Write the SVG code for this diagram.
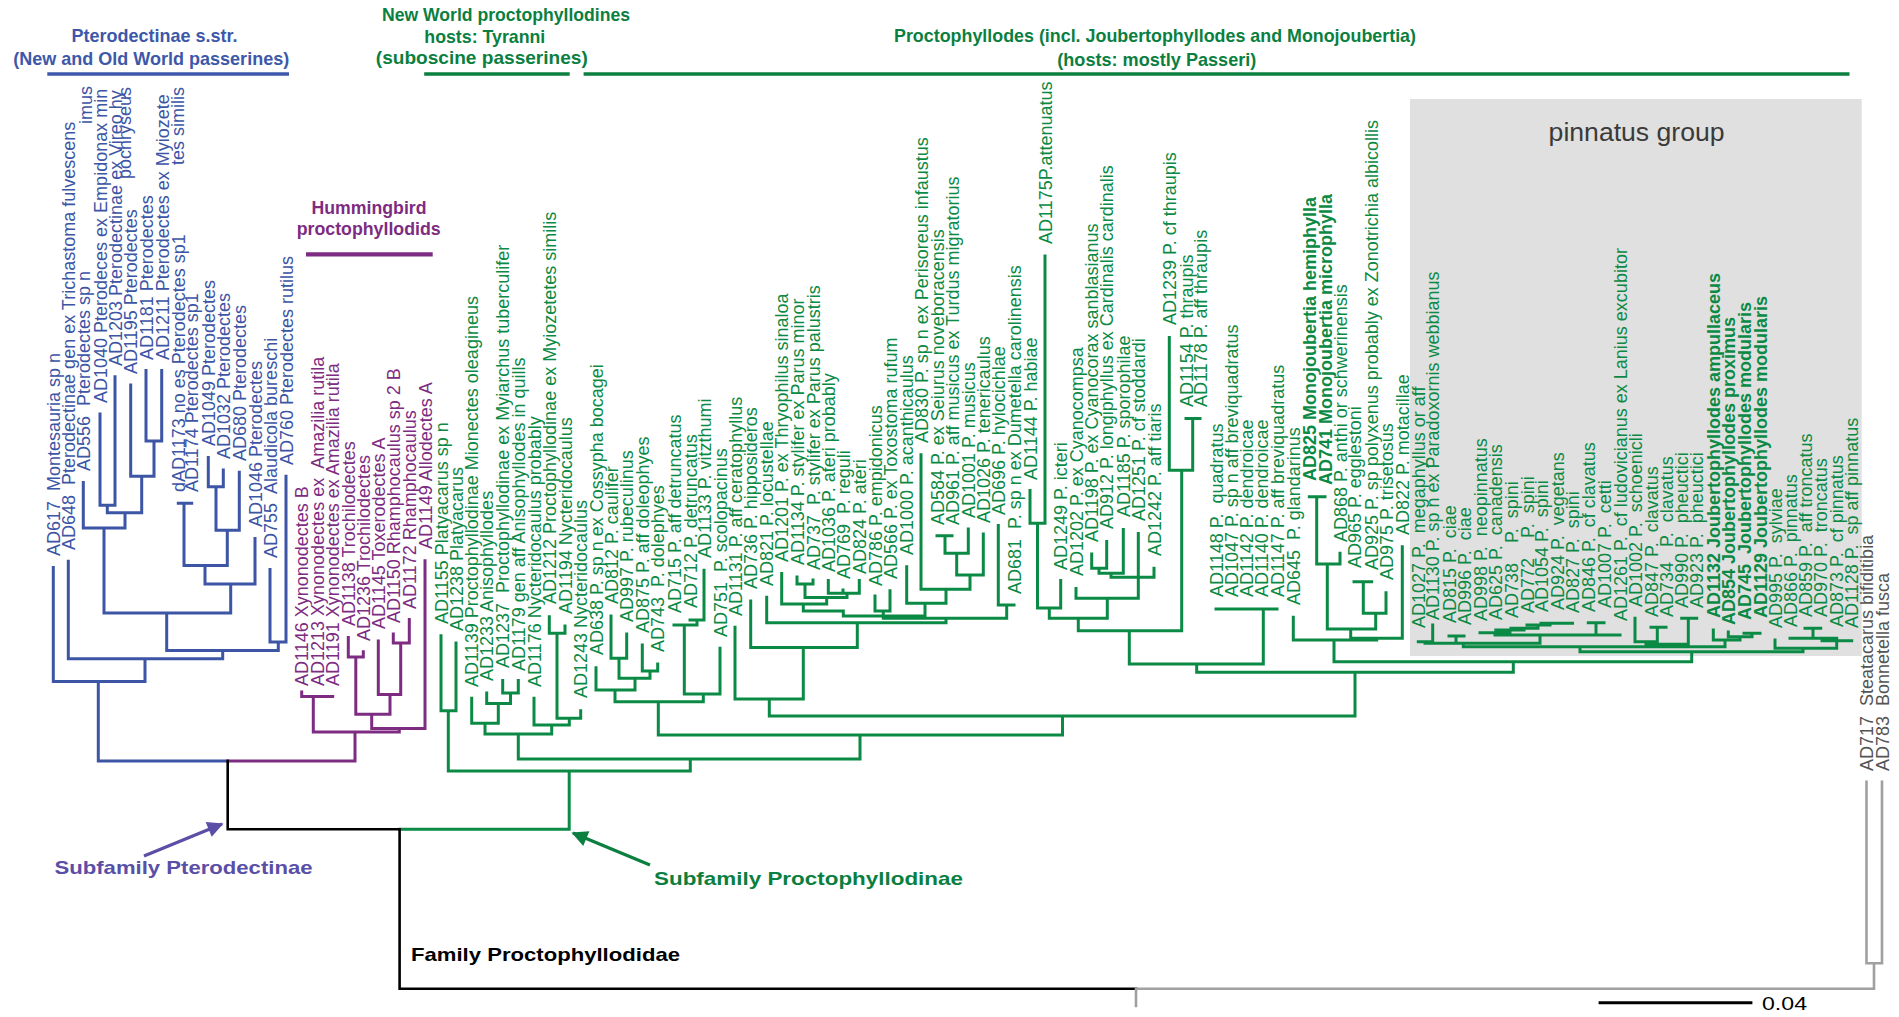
<svg xmlns="http://www.w3.org/2000/svg" width="1899" height="1017" viewBox="0 0 1899 1017" xml:space="preserve">
<style>
.t{font-family:"Liberation Sans",Arial,sans-serif;font-size:18px;white-space:pre}
.b{fill:#3c55a5}.p{fill:#7d2c82}.g{fill:#0b8a45}.k{fill:#555}.bd{font-weight:bold}
.h{font-family:"Liberation Sans",Arial,sans-serif;font-weight:bold;font-size:17.7px;text-anchor:middle}
.ln{fill:none;stroke-linecap:square;stroke-width:3}
.lb{stroke:#3c55a5}.lp{stroke:#7d2c82}.lg{stroke:#0b8a45}.lk{stroke:#000;stroke-width:2.6}.lgr{stroke:#a0a0a0;stroke-width:2.6}
.big{font-family:"Liberation Sans",Arial,sans-serif;font-weight:bold;font-size:18.5px}
</style>
<defs>
<marker id="ahb" viewBox="0 0 10 10" refX="9" refY="5" markerWidth="24" markerHeight="16" markerUnits="userSpaceOnUse" orient="auto"><path d="M0,0L10,5L0,10z" fill="#5a4ea6"/></marker>
<marker id="ahg" viewBox="0 0 10 10" refX="9" refY="5" markerWidth="24" markerHeight="16" markerUnits="userSpaceOnUse" orient="auto"><path d="M0,0L10,5L0,10z" fill="#0b7f3f"/></marker>
</defs>
<rect id="pinnatus-box" x="1410" y="99" width="451.7" height="557" fill="#e0e0e0"/>
<text x="1548.6" y="141" font-family="Liberation Sans, Arial, sans-serif" font-size="25" fill="#3a3a3a" textLength="176" lengthAdjust="spacingAndGlyphs">pinnatus group</text>

<g id="headers">
<text class="h" fill="#3d58a8" x="154.5" y="42" textLength="166" lengthAdjust="spacingAndGlyphs">Pterodectinae s.str.</text>
<text class="h" fill="#3d58a8" x="151.2" y="64.5" textLength="276" lengthAdjust="spacingAndGlyphs">(New and Old World passerines)</text>
<text class="h" fill="#0b7f3f" x="506" y="20.7" textLength="248" lengthAdjust="spacingAndGlyphs">New World proctophyllodines</text>
<text class="h" fill="#0b7f3f" x="484.8" y="42.5" textLength="121" lengthAdjust="spacingAndGlyphs">hosts: Tyranni</text>
<text class="h" fill="#0b7f3f" x="481.8" y="63.5" textLength="212" lengthAdjust="spacingAndGlyphs">(suboscine passerines)</text>
<text class="h" fill="#0b7f3f" x="1155" y="42.3" textLength="522" lengthAdjust="spacingAndGlyphs">Proctophyllodes (incl. Joubertophyllodes and Monojoubertia)</text>
<text class="h" fill="#0b7f3f" x="1156.8" y="65.5" textLength="199" lengthAdjust="spacingAndGlyphs">(hosts: mostly Passeri)</text>
<text class="h" fill="#7d2c82" x="369" y="214" textLength="115" lengthAdjust="spacingAndGlyphs">Hummingbird</text>
<text class="h" fill="#7d2c82" x="368.7" y="235" textLength="144" lengthAdjust="spacingAndGlyphs">proctophyllodids</text>
<path d="M47.3 74H289" stroke="#3d58a8" stroke-width="3.3"/>
<path d="M424.2 74H569.7M583.6 74H1849.5" stroke="#0b7f3f" stroke-width="3.3"/>
<path d="M306 254.3H432.7" stroke="#7d2c82" stroke-width="4.3"/>
</g>

<g id="connectors">
<path class="ln lb" d="M53.3 567.5V681.5M68.3 561.3V658.7M83.3 482.5V528.1M100 414.1V505.3M115 376.8V505.3M100 505.3H115M107.3 505.3V512.8M130.7 385.1V476.3M146 370.6V441.1M161.7 370.6V441.1M146 441.1H161.7M154 441.1V476.3M130.7 476.3H154M141.7 476.3V512.8M107.3 512.8H141.7M125 512.8V528.1M83.3 528.1H125M104 528.1V613.1M178.3 503.3H191.7M184 503.3V565.4M208.3 457.6V486.7M223.3 470.1V486.7M208.3 486.7H223.3M216 486.7V530.2M239.3 472.2V530.2M216 530.2H239.3M227.3 530.2V565.4M184 565.4H227.3M205 565.4V584.1M255 538.5V584.1M205 584.1H255M230.7 584.1V613.1M104 613.1H230.7M166.7 613.1V650.4M270 569.6V642.1M286 476.3V642.1M270 642.1H286M278.3 642.1V650.4M166.7 650.4H278.3M222.7 650.4V658.7M68.3 658.7H222.7M145 658.7V681.5M53.3 681.5H145M98.3 681.5V761M98.3 761H227.7"/>
<path class="ln lp" d="M301.7 696.4H332.7M301.7 692V696.4M313.3 696.4V732.1M348.3 637.5V657.1M363.3 651.8V657.1M348.3 657.1H363.3M355.8 657.1V714.3M393.3 633.9V642.9M409.3 619.6V642.9M393.3 642.9H409.3M400.7 642.9V694.6M378.3 641V694.6M378.3 694.6H400.7M390 694.6V714.3M355.8 714.3H390M371.7 714.3V728.6M425 560.7V728.6M371.7 728.6H425M399.3 728.6V732.1M313.3 732.1H399.3M355 732.1V761M227.7 761H355"/>
<path class="ln lg" d="M441 635.7V710.7M456 642.9V710.7M441 710.7H456M448.3 710.7V771M502.7 680.4V692.9M518.3 680.4V692.9M502.7 692.9H518.3M510.5 692.9V703.6M486.7 692.9V703.6M486.7 703.6H510.5M498.3 703.6V723.2M471.7 698.2V723.2M471.7 723.2H498.3M485 723.2V733.9M549.3 616.7V633.3M565 626V633.3M549.3 633.3H565M557 633.3V718.3M580.7 710.7V718.3M557 718.3H580.7M569.3 718.3V725M534 698.2V725M534 725H569.3M551.7 725V733.9M485 733.9H551.7M518.3 733.9V759
M596 667.7V690M611 616V658.3M626.7 634V658.3M611 658.3H626.7M619 658.3V678.3M642.3 645V671M657.7 664V671M642.3 671H657.7M650 671V678.3M619 678.3H650M635 678.3V690M596 690H635M615 690V701.7M704 570.2V620M690 620H704M697 620V625M674 625H697M684.3 625V694M720 648.3V694M684.3 694H720M703.3 694V701.7M615 701.7H703.3M658.3 701.7V735
M735 627.3V699M750.7 601V647.5M766.7 597.3V622.7M781.7 573.5V604M797 577V584M813 580V584M797 584H813M805 584V597.5M828.3 580.5V593.3M843 590V593.3M859.3 580.5V593.3M828.3 593.3H859.3M847 593.3V597.5M805 597.5H847M826.7 597.5V604M781.7 604H826.7M803.3 604V611M803.3 611H843.3M843.3 611V616M875 596V611M890 590.8V611M875 611H890M883.3 611V618.3M906.7 566.7V603.3M921 454.8V589.3M937 535.7H952M945 535.7V553.3M968.3 528.9V553.3M945 553.3H968.3M956.7 553.3V575M983.3 534V575M956.7 575H983.3M970 575V589.3M921 589.3H970M946 589.3V603.3M906.7 603.3H946M925 603.3V616M843.3 616H925M998.3 525.4V605M998.3 605H1014M1006.7 605V618.3M883.3 618.3H1006.7M946 618.3V622.7M766.7 622.7H946M857.3 622.7V647.5M750.7 647.5H857.3M803.3 647.5V699M735 699H803.3M769.3 699V716M769.3 716H1355
M448.3 771H690.3M569.2 771V829.3M690.3 771V759M518.3 759H860M860 759V735M658.3 735H1062.5M1062.5 735V716M399.6 829.3H569.2
M1030 490.6V523.3M1045 255.9V523.3M1030 523.3H1045M1037.5 523.3V608M1060.7 580.4V608M1037.5 608H1060.7M1049.3 608V618.3M1091.7 553.9V568.3M1106.7 541.6V568.3M1091.7 568.3H1106.7M1099 568.3V573.3M1123.3 529.4V573.3M1099 573.3H1123.3M1111 573.3V577.3M1138.3 533.5V598.3M1154 568.2V577.3M1111 577.3H1154M1076 588.6V598.3M1076 598.3H1138.3M1107.3 598.3V618.3M1049.3 618.3H1107.3M1078.3 618.3V630.7M1169.3 337.6V470.2M1186 418.4H1200M1192.7 418.4V470.2M1169.3 470.2H1192.7M1181.7 470.2V630.7M1078.3 630.7H1181.7M1129.3 630.7V664M1216 609H1277M1263.3 609V664M1129.3 664H1263.3M1196.7 664V672.3M1196.7 672.3H1513.3M1355 672.3V716
M1309.3 496.7H1325M1316.7 496.7V564M1340 553.3V564M1316.7 564H1340M1327.3 564V629M1354 581.7H1371.7M1363.3 581.7V613.3M1386 592.7V613.3M1363.3 613.3H1386M1375.7 613.3V629M1327.3 629H1375.7M1350.7 629V638.3M1402.3 546.7V638.3M1350.7 638.3H1402.3M1376.7 638.3V640M1293.3 617.3V640M1293.3 640H1376.7M1334 640V661.7M1334 661.7H1691.7M1513.3 661.7V672.3
M1418.3 641.7H1432.7M1432.7 625V641.7M1425 641.7V643.3M1449 636H1464M1456 636V643.3M1541 623.3H1572.5M1550 623.3V625M1527 625H1550M1538 625V628.3M1511 628.3H1538M1524 628.3V630M1495.8 630H1524M1510 630V632.7M1480 632.7H1510M1495 632.7V635M1588.3 622.7H1604M1596 622.7V635M1495 635H1620M1540 635V643.3M1425 643.3H1540M1463.3 643.3V646.7M1635 618.3V641.7M1651 627.3H1666M1657.3 627.3V641.7M1635 641.7H1657.3M1646 641.7V644.3M1681.7 618.3H1696.7M1688.3 618.3V644.3M1646 644.3H1688.3M1667 644.3V646.7M1713.3 630V640M1728.3 632V636.7M1744 633.3H1760M1752 633.3V636.7M1728.3 636.7H1752M1740 636.7V640M1713.3 640H1740M1725 640V646.7M1463.3 646.7H1725M1580 646.7V651.7M1805 628.3H1820.7M1813 628.3V638.3M1790 638.3H1836.7M1822 638.3V640.7M1822 640.7H1851.7M1836.7 640.7V648.3M1775 640V648.3M1775 648.3H1836.7M1803 648.3V651.7M1580 651.7H1803M1691.7 651.7V661.7"/>
<path class="ln lk" d="M227.7 761V829.3M227.7 829.3H399.6M399.6 829.3V988.7M399.6 988.7H1136"/>
<path class="ln lgr" d="M1136 988.7H1874M1136 988.7V1006M1874 988.7V963.3M1866.5 963.3H1882M1866.5 781.7V963.3M1882 781.7V963.3"/>
<path d="M144 856L222 824" stroke="#5a4ea6" stroke-width="3.2" marker-end="url(#ahb)"/>
<path d="M650 865L573 833" stroke="#0b7f3f" stroke-width="3.2" marker-end="url(#ahg)"/>
<path d="M1598.6 1002.7H1752.4" stroke="#000" stroke-width="3"/>
</g>

<g id="tips-pterodectinae">
<g id="n-AD617"><text class="t b" transform="translate(59.8,556) rotate(-90)">AD617  Montesauria sp n</text></g>
<g id="n-AD648"><text class="t b" transform="translate(74.8,550) rotate(-90)">AD648  Pterodectinae gen ex Trichastoma fulvescens</text></g>
<g id="n-AD556"><text class="t b" transform="translate(89.8,471) rotate(-90)">AD556  Pterodectes sp n</text></g>
<g id="n-AD1040"><text class="t b" transform="translate(106.5,403) rotate(-90)">AD1040 Pterodeces ex Empidonax min</text><text class="t b" transform="translate(91.5,124) rotate(-90)">imus</text></g>
<g id="n-AD1203"><text class="t b" transform="translate(121.5,366) rotate(-90)">AD1203 Pterodectinae ex Vireo hy</text><text class="t b" transform="translate(130.5,179) rotate(-90)">pochryseus</text></g>
<g id="n-AD1195"><text class="t b" transform="translate(137.2,374) rotate(-90)">AD1195 Pterodectes</text></g>
<g id="n-AD1181"><text class="t b" transform="translate(152.5,360) rotate(-90)">AD1181 Pterodectes</text></g>
<g id="n-AD1211"><text class="t b" transform="translate(168.5,360) rotate(-90)">AD1211 Pterodectes ex Myiozete</text><text class="t b" transform="translate(183.5,165) rotate(-90)">tes similis</text></g>
<g id="n-dAD1173"><text class="t b" transform="translate(184.8,492) rotate(-90)">dAD1173 no es Pterodectes sp1</text></g>
<g id="n-AD1174"><text class="t b" transform="translate(198.2,492) rotate(-90)">AD1174 Pterodectes sp1</text></g>
<g id="n-AD1049"><text class="t b" transform="translate(214.8,446) rotate(-90)">AD1049 Pterodectes</text></g>
<g id="n-AD1032"><text class="t b" transform="translate(229.8,459) rotate(-90)">AD1032 Pterodectes</text></g>
<g id="n-AD680"><text class="t b" transform="translate(245.8,461) rotate(-90)">AD680 Pterodectes</text></g>
<g id="n-AD1046"><text class="t b" transform="translate(261.5,527) rotate(-90)">AD1046 Pterodectes</text></g>
<g id="n-AD755"><text class="t b" transform="translate(276.5,558) rotate(-90)">AD755  Alaudicola bureschi</text></g>
<g id="n-AD760"><text class="t b" transform="translate(292.5,465) rotate(-90)">AD760 Pterodectes rutilus</text></g>
</g>

<g id="tips-hummingbird">
<g id="n-AD1146"><text class="t p" transform="translate(308.2,686) rotate(-90)">AD1146 Xynonodectes B</text></g>
<g id="n-AD1213"><text class="t p" transform="translate(323.8,686) rotate(-90)">AD1213 Xynonodectes ex  Amazilia rutila</text></g>
<g id="n-AD1191"><text class="t p" transform="translate(339.2,686) rotate(-90)">AD1191 Xynonodectes ex Amazilia rutila</text></g>
<g id="n-AD1138"><text class="t p" transform="translate(354.8,626) rotate(-90)">AD1138 Trochilodectes</text></g>
<g id="n-AD1236"><text class="t p" transform="translate(369.8,641) rotate(-90)">AD1236 Trochilodectes</text></g>
<g id="n-AD1145"><text class="t p" transform="translate(384.8,629) rotate(-90)">AD1145 Toxerodectes A</text></g>
<g id="n-AD1150"><text class="t p" transform="translate(399.8,623) rotate(-90)">AD1150 Rhamphocaulus sp 2 B</text></g>
<g id="n-AD1172"><text class="t p" transform="translate(415.8,609) rotate(-90)">AD1172 Rhamphocaulus</text></g>
<g id="n-AD1149"><text class="t p" transform="translate(431.5,549) rotate(-90)">AD1149 Allodectes A</text></g>
</g>

<g id="tips-proctophyllodinae">
<g id="n-AD1155"><text class="t g" transform="translate(447.5,624) rotate(-90)">AD1155 Platyacarus sp n</text></g>
<g id="n-AD1238"><text class="t g" transform="translate(462.5,631) rotate(-90)">AD1238 Platyacarus</text></g>
<g id="n-AD1139"><text class="t g" transform="translate(478.2,687) rotate(-90)">AD1139 Proctophyllodinae Mionectes oleagineus</text></g>
<g id="n-AD1233"><text class="t g" transform="translate(493.2,681) rotate(-90)">AD1233 Anisophyllodes</text></g>
<g id="n-AD1237"><text class="t g" transform="translate(509.2,668) rotate(-90)">AD1237  Proctophyllodinae ex Myiarchus tuberculifer</text></g>
<g id="n-AD1179"><text class="t g" transform="translate(524.8,671) rotate(-90)">AD1179 gen aff Anisophyllodes in quills</text></g>
<g id="n-AD1176"><text class="t g" transform="translate(540.5,687) rotate(-90)">AD1176 Nycteridocaulus probably</text></g>
<g id="n-AD1212"><text class="t g" transform="translate(555.8,604) rotate(-90)">AD1212 Proctophyllodinae ex Myiozetetes similis</text></g>
<g id="n-AD1194"><text class="t g" transform="translate(571.5,614) rotate(-90)">AD1194 Nycteridocaulus</text></g>
<g id="n-AD1243"><text class="t g" transform="translate(587.2,698) rotate(-90)">AD1243 Nycteridocaulus</text></g>
<g id="n-AD638"><text class="t g" transform="translate(602.5,655) rotate(-90)">AD638 P. sp n ex Cossypha bocagei</text></g>
<g id="n-AD812"><text class="t g" transform="translate(617.5,604) rotate(-90)">AD812 P. caulifer</text></g>
<g id="n-AD997"><text class="t g" transform="translate(633.2,622) rotate(-90)">AD997 P. rubeculinus</text></g>
<g id="n-AD875"><text class="t g" transform="translate(648.8,633) rotate(-90)">AD875 P. aff doleophyes</text></g>
<g id="n-AD743"><text class="t g" transform="translate(664.2,652) rotate(-90)">AD743  P. dolephyes</text></g>
<g id="n-AD715"><text class="t g" transform="translate(680.5,613) rotate(-90)">AD715 P. aff detruncatus</text></g>
<g id="n-AD712"><text class="t g" transform="translate(696.5,608) rotate(-90)">AD712 P. detruncatus</text></g>
<g id="n-AD1133"><text class="t g" transform="translate(710.5,558) rotate(-90)">AD1133 P. vitzthumi</text></g>
<g id="n-AD751"><text class="t g" transform="translate(726.5,637) rotate(-90)">AD751  P. scolopacinus</text></g>
<g id="n-AD1131"><text class="t g" transform="translate(741.5,616) rotate(-90)">AD1131 P. aff ceratophyllus</text></g>
<g id="n-AD736"><text class="t g" transform="translate(757.2,589) rotate(-90)">AD736 P. hipposideros</text></g>
<g id="n-AD821"><text class="t g" transform="translate(773.2,586) rotate(-90)">AD821 P. locustellae</text></g>
<g id="n-AD1201"><text class="t g" transform="translate(788.2,562) rotate(-90)">AD1201 P. ex Thryophilus sinaloa</text></g>
<g id="n-AD1134"><text class="t g" transform="translate(803.5,565) rotate(-90)">AD1134 P. stylifer ex Parus minor</text></g>
<g id="n-AD737"><text class="t g" transform="translate(819.5,570) rotate(-90)">AD737  P. stylifer ex Parus palustris</text></g>
<g id="n-AD1036"><text class="t g" transform="translate(834.8,572) rotate(-90)">AD1036 P. ateri probably</text></g>
<g id="n-AD769"><text class="t g" transform="translate(849.5,579) rotate(-90)">AD769  P. reguli</text></g>
<g id="n-AD824"><text class="t g" transform="translate(865.8,574) rotate(-90)">AD824 P. ateri</text></g>
<g id="n-AD786"><text class="t g" transform="translate(881.5,586) rotate(-90)">AD786 P. empidonicus</text></g>
<g id="n-AD566"><text class="t g" transform="translate(896.5,579) rotate(-90)">AD566 P. ex Toxostoma rufum</text></g>
<g id="n-AD1000"><text class="t g" transform="translate(913.2,555) rotate(-90)">AD1000 P. acanthicaulus</text></g>
<g id="n-AD830"><text class="t g" transform="translate(927.5,443) rotate(-90)">AD830 P. sp n ex Perisoreus infaustus</text></g>
<g id="n-AD584"><text class="t g" transform="translate(943.5,525) rotate(-90)">AD584 P. ex Seiurus noveboracensis</text></g>
<g id="n-AD961"><text class="t g" transform="translate(958.5,525) rotate(-90)">AD961 P. aff musicus ex Turdus migratorius</text></g>
<g id="n-AD1001"><text class="t g" transform="translate(974.8,518) rotate(-90)">AD1001 P. musicus</text></g>
<g id="n-AD1026"><text class="t g" transform="translate(989.8,523) rotate(-90)">AD1026 P. tenericaulus</text></g>
<g id="n-AD696"><text class="t g" transform="translate(1004.8,515) rotate(-90)">AD696 P. hylocichlae</text></g>
<g id="n-AD681"><text class="t g" transform="translate(1020.5,594) rotate(-90)">AD681  P. sp n ex Dumetella carolinensis</text></g>
<g id="n-AD1144"><text class="t g" transform="translate(1036.5,480) rotate(-90)">AD1144 P. habiae</text></g>
<g id="n-AD1175"><text class="t g" transform="translate(1051.5,244) rotate(-90)">AD1175P.attenuatus</text></g>
<g id="n-AD1249"><text class="t g" transform="translate(1067.2,570) rotate(-90)">AD1249 P. icteri</text></g>
<g id="n-AD1202"><text class="t g" transform="translate(1082.5,576) rotate(-90)">AD1202 P. ex Cyanocompsa</text></g>
<g id="n-AD1198"><text class="t g" transform="translate(1098.2,542) rotate(-90)">AD1198 P. ex Cyanocorax sanblasianus</text></g>
<g id="n-AD912"><text class="t g" transform="translate(1113.2,529) rotate(-90)">AD912 P. longiphyllus ex Cardinalis cardinalis</text></g>
<g id="n-AD1185"><text class="t g" transform="translate(1129.8,517) rotate(-90)">AD1185 P. sporophilae</text></g>
<g id="n-AD1251"><text class="t g" transform="translate(1144.8,521) rotate(-90)">AD1251 P. cf stoddardi</text></g>
<g id="n-AD1242"><text class="t g" transform="translate(1160.5,556) rotate(-90)">AD1242 P. aff tiaris</text></g>
<g id="n-AD1239"><text class="t g" transform="translate(1175.8,325) rotate(-90)">AD1239 P. cf thraupis</text></g>
<g id="n-AD1154"><text class="t g" transform="translate(1192.5,407) rotate(-90)">AD1154 P. thraupis</text></g>
<g id="n-AD1178"><text class="t g" transform="translate(1206.5,407) rotate(-90)">AD1178 P. aff thraupis</text></g>
<g id="n-AD1148"><text class="t g" transform="translate(1222.5,597) rotate(-90)">AD1148 P.  quadratus</text></g>
<g id="n-AD1047"><text class="t g" transform="translate(1237.5,597) rotate(-90)">AD1047 P. sp n aff breviquadratus</text></g>
<g id="n-AD1142"><text class="t g" transform="translate(1252.5,597) rotate(-90)">AD1142 P. dendroicae</text></g>
<g id="n-AD1140"><text class="t g" transform="translate(1267.5,597) rotate(-90)">AD1140 P. dendroicae</text></g>
<g id="n-AD1147"><text class="t g" transform="translate(1283.5,597) rotate(-90)">AD1147 P. aff breviquadratus</text></g>
<g id="n-AD645"><text class="t g" transform="translate(1299.8,605) rotate(-90)">AD645  P. glandarinus</text></g>
<g id="n-AD825"><text class="t g bd" transform="translate(1315.8,481) rotate(-90)">AD825 Monojoubertia hemiphylla</text></g>
<g id="n-AD741"><text class="t g bd" transform="translate(1331.5,485) rotate(-90)">AD741 Monojoubertia microphylla</text></g>
<g id="n-AD868"><text class="t g" transform="translate(1346.5,542) rotate(-90)">AD868 P. anthi or schwerinensis</text></g>
<g id="n-AD965"><text class="t g" transform="translate(1360.5,568) rotate(-90)">AD965 P. egglestoni</text></g>
<g id="n-AD925"><text class="t g" transform="translate(1378.2,570) rotate(-90)">AD925 P. sp polyxenus probably ex Zonotrichia albicollis</text></g>
<g id="n-AD975"><text class="t g" transform="translate(1392.5,580) rotate(-90)">AD975 P. trisetosus</text></g>
<g id="n-AD822"><text class="t g" transform="translate(1408.8,535) rotate(-90)">AD822 P. motacillae</text></g>
</g>

<g id="tips-pinnatus">
<g id="n-AD1027"><text class="t g" transform="translate(1424.8,628) rotate(-90)">AD1027 P.  megaphyllus or aff</text></g>
<g id="n-AD1130"><text class="t g" transform="translate(1439.2,620) rotate(-90)">AD1130 P. sp n ex Paradoxornis webbianus</text></g>
<g id="n-AD815"><text class="t g" transform="translate(1455.5,623) rotate(-90)">AD815 P.  ciae</text></g>
<g id="n-AD996"><text class="t g" transform="translate(1470.5,625) rotate(-90)">AD996 P.  ciae</text></g>
<g id="n-AD998"><text class="t g" transform="translate(1486.5,621) rotate(-90)">AD998 P.  neopinnatus</text></g>
<g id="n-AD625"><text class="t g" transform="translate(1502.2,620) rotate(-90)">AD625 P.  canadensis</text></g>
<g id="n-AD738"><text class="t g" transform="translate(1517.5,618) rotate(-90)">AD738    P.  spini</text></g>
<g id="n-AD772"><text class="t g" transform="translate(1533.5,613) rotate(-90)">AD772    P.  spini</text></g>
<g id="n-AD1054"><text class="t g" transform="translate(1547.5,612) rotate(-90)">AD1054 P.  spini</text></g>
<g id="n-AD924"><text class="t g" transform="translate(1564,610) rotate(-90)">AD924 P.  vegetans</text></g>
<g id="n-AD827"><text class="t g" transform="translate(1579,613) rotate(-90)">AD827 P.  spini</text></g>
<g id="n-AD846"><text class="t g" transform="translate(1594.8,612) rotate(-90)">AD846 P.  cf clavatus</text></g>
<g id="n-AD1007"><text class="t g" transform="translate(1610.5,608) rotate(-90)">AD1007 P.  cetti</text></g>
<g id="n-AD1261"><text class="t g" transform="translate(1626.5,621) rotate(-90)">AD1261 P.  cf ludovicianus ex Lanius excubitor</text></g>
<g id="n-AD1002"><text class="t g" transform="translate(1641.5,607) rotate(-90)">AD1002 P.  schoenicli</text></g>
<g id="n-AD847"><text class="t g" transform="translate(1657.5,617) rotate(-90)">AD847 P.  clavatus</text></g>
<g id="n-AD734"><text class="t g" transform="translate(1672.5,617) rotate(-90)">AD734   P.  clavatus</text></g>
<g id="n-AD990"><text class="t g" transform="translate(1688.2,608) rotate(-90)">AD990 P.  pheuctici</text></g>
<g id="n-AD923"><text class="t g" transform="translate(1703.2,608) rotate(-90)">AD923 P.  pheuctici</text></g>
<g id="n-AD1132"><text class="t g bd" transform="translate(1719.8,618) rotate(-90)">AD1132 Joubertophyllodes ampullaceus</text></g>
<g id="n-AD854"><text class="t g bd" transform="translate(1734.8,625) rotate(-90)">AD854 Joubertophyllodes proximus</text></g>
<g id="n-AD745"><text class="t g bd" transform="translate(1750.5,620) rotate(-90)">AD745  Joubertophyllodes modularis</text></g>
<g id="n-AD1129"><text class="t g bd" transform="translate(1766.5,618) rotate(-90)">AD1129 Joubertophyllodes modularis</text></g>
<g id="n-AD995"><text class="t g" transform="translate(1781.5,628) rotate(-90)">AD995 P.  sylviae</text></g>
<g id="n-AD866"><text class="t g" transform="translate(1796.5,627) rotate(-90)">AD866 P.  pinnatus</text></g>
<g id="n-AD859"><text class="t g" transform="translate(1811.5,617) rotate(-90)">AD859 P.  aff troncatus</text></g>
<g id="n-AD970"><text class="t g" transform="translate(1827.2,617) rotate(-90)">AD970 P.  troncatus</text></g>
<g id="n-AD873"><text class="t g" transform="translate(1843.2,627) rotate(-90)">AD873 P.  cf pinnatus</text></g>
<g id="n-AD1128"><text class="t g" transform="translate(1858.2,628) rotate(-90)">AD1128 P.  sp aff pinnatus</text></g>
</g>

<g id="tips-outgroup">
<g id="n-AD717"><text class="t k" transform="translate(1873,771) rotate(-90)">AD717  Steatacarus bifiditibia</text></g>
<g id="n-AD783"><text class="t k" transform="translate(1888.5,771) rotate(-90)">AD783  Bonnetella fusca</text></g>
</g>

<g id="annotations">
<text class="big" fill="#5a4ea6" x="54.5" y="873.5" textLength="258" lengthAdjust="spacingAndGlyphs">Subfamily Pterodectinae</text>
<text class="big" fill="#0b7f3f" x="654" y="885" textLength="309" lengthAdjust="spacingAndGlyphs">Subfamily Proctophyllodinae</text>
<text class="big" fill="#000" x="411" y="960.5" textLength="269" lengthAdjust="spacingAndGlyphs">Family Proctophyllodidae</text>
<text x="1762" y="1009.5" font-family="Liberation Sans, Arial, sans-serif" font-size="18" fill="#000" textLength="45" lengthAdjust="spacingAndGlyphs">0.04</text>
</g>
</svg>
